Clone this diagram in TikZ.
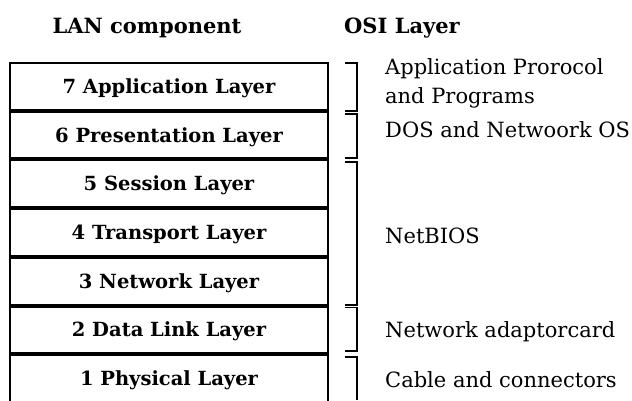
\documentclass[tikz,border=0pt]{standalone}
\usepackage{fontspec}
\setmainfont{DejaVu Serif}
\usetikzlibrary{positioning}

\tikzset{
  layer/.style={draw, line width=2pt, minimum width=318pt, minimum height=46.7pt,
    inner sep=0pt, text height=14.2pt, text depth=0pt,
    font=\bfseries\fontsize{19.5}{22}\selectfont},
  head/.style={anchor=base, font=\bfseries\fontsize{21}{24}\selectfont},
  note/.style={anchor=base west, align=left, inner sep=0pt, font=\fontsize{21}{29}\selectfont},
  brk/.style={line width=1.2pt}
}

\begin{document}
\begin{tikzpicture}[x=1pt,y=-1pt]
\useasboundingbox (0,0) rectangle (632,400);

\node[head] (lan) at (147,33) {LAN component};
\node[head] (osi) at (402,33) {OSI Layer};

\node[layer, anchor=north west] (l7) at (9,62) {7 Application Layer};
\node[layer, below = 0pt of l7] (l6) {6 Presentation Layer};
\node[layer, below = 0pt of l6] (l5) {5 Session Layer};
\node[layer, below = 0pt of l5] (l4) {4 Transport Layer};
\node[layer, below = 0pt of l4] (l3) {3 Network Layer};
\node[layer, below = 0pt of l3] (l2) {2 Data Link Layer};
\node[layer, below = 0pt of l2] (l1) {1 Physical Layer};

%brackets
\draw[brk] (345,63) -- (357,63) -- (357,111) -- (345,111);
\draw[brk] (345,114) -- (357,114) -- (357,158) -- (345,158);
\draw[brk] (345,162) -- (357,162) -- (357,305) -- (345,305);
\draw[brk] (345,307.5) -- (357,307.5) -- (357,351) -- (345,351);
\draw[brk] (345,357) -- (357,357) -- (357,400);

\node[note, anchor=north west] (app) at (385,58) {Application Prorocol\\and Programs};
\node[note] (dos) at (385,137) {DOS and Netwoork OS};
\node[note] (nb) at (385,243) {NetBIOS};
\node[note] (nic) at (385,337) {Network adaptorcard};
\node[note] (cab) at (385,387) {Cable and connectors};
\end{tikzpicture}
\end{document}
